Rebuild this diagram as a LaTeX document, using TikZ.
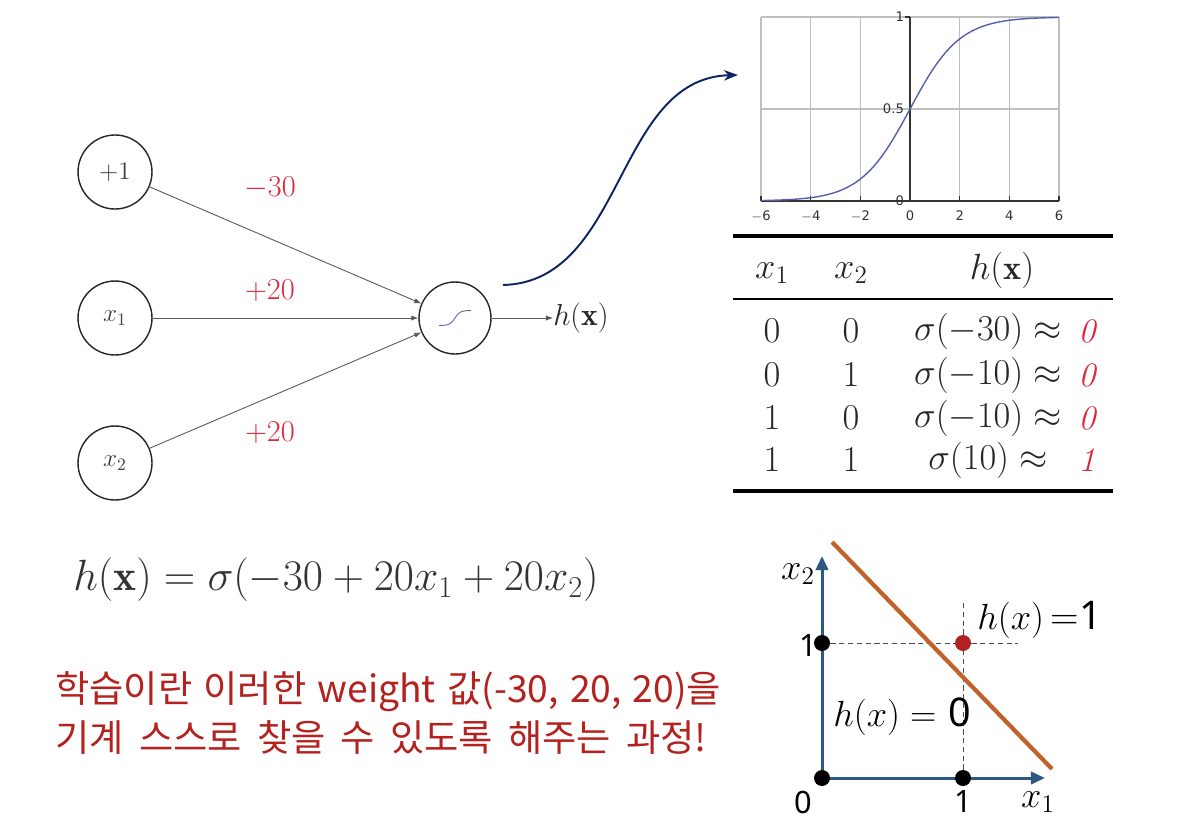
\documentclass[tikz,border=0pt]{standalone}
\usepackage{fontspec}
\newfontfamily\kofont[WordSpace=1.1]{Noto Sans CJK KR}
\newfontfamily\kofontwide[WordSpace=1.35]{Noto Sans CJK KR}
\newfontfamily\tickfont{DejaVu Sans}
\newfontfamily\plotfont{Noto Sans}
\usetikzlibrary{arrows.meta,positioning}
\definecolor{wred}{HTML}{E0283C}
\definecolor{kored}{HTML}{B3221E}
\definecolor{navyline}{HTML}{0D2560}
\definecolor{axisblue}{HTML}{2E5786}
\definecolor{splitline}{HTML}{C0622A}
\definecolor{sigcurve}{HTML}{5560B0}
\definecolor{dotred}{HTML}{B22222}
\begin{document}
\begin{tikzpicture}[x=0.02cm, y=-0.02cm,
    neuron/.style={circle, draw=black!85, line width=0.8pt, minimum size=1.48cm, inner sep=0, font=\fontsize{14}{16}\selectfont, text=black!75},
    syn/.style={draw=black!65, line width=0.5pt, -{Latex[length=4pt,width=3pt]}},
    wlabel/.style={text=wred, font=\fontsize{19}{22}\selectfont},
    cell/.style={inner sep=0, font=\fontsize{19.5}{23}\selectfont, text=black!85},
    gridline/.style={draw=black!25, line width=0.6pt},
    tick/.style={inner sep=1pt, font=\tickfont\fontsize{7.5}{9}\selectfont, text=black!80},
    dot/.style={circle, fill=black, inner sep=0, minimum size=0.32cm},
    axlabel/.style={inner sep=0, font=\plotfont\fontsize{17.5}{20}\selectfont},
    note/.style={anchor=west, inner sep=0, text=kored},
    rule/.style={line width=2pt}]
  \useasboundingbox[fill=white] (0,0) rectangle (1192,838);

  % network
  \node[neuron] (bias) at (115,172) {$+1$};
  \node[neuron] (in1) at (115,318) {$x_1$};
  \node[neuron] (in2) at (115,463) {$x_2$};
  \node[neuron, minimum size=1.44cm] (sig) at (455,318) {};
  \draw[sigcurve, line width=0.5pt] plot[domain=-4:4, samples=30] ({455+4*\x},{325.5-15/(1+exp(-1.5*\x))});
  \node[anchor=west, inner sep=0, font=\fontsize{18}{21}\selectfont, text=black!85] (out) at (553,318) {$h(\mathbf{x})$};

  \draw[syn] (bias) -- (sig);
  \draw[syn] (in1) -- (sig);
  \draw[syn] (in2) -- (sig);
  \draw[syn] (sig) -- (out);

  \node[wlabel] (w0) at (270,188) {$-30$};
  \node[wlabel] (w1) at (270,291) {$+20$};
  \node[wlabel] (w2) at (270,433) {$+20$};

  % link to the sigmoid plot
  \coordinate (linkstart) at (503,285);
  \coordinate (linkend) at (738,75);
  \draw[navyline, line width=1.1pt, -{Stealth[length=8pt,width=6pt]}] (linkstart) .. controls (625,282) and (615,78) .. (linkend);

  % sigmoid plot
  \foreach \gx in {761,810.7,860.3,959.7,1009.3,1059}
    \draw[gridline] (\gx,17) -- (\gx,201);
  \draw[gridline] (761,17) -- (1059,17);
  \draw[gridline] (761,109) -- (1059,109);
  \draw[black!80, line width=0.7pt] (761,201) -- (1059,201);
  \draw[black!80, line width=0.7pt] (910,17) -- (910,201);
  \foreach \gx in {761,810.7,860.3,910,959.7,1009.3,1059}
    \draw[black!80, line width=0.6pt] (\gx,201) -- (\gx,196);
  \draw[black!80, line width=0.6pt] (905,17) -- (910,17);
  \draw[sigcurve, line width=0.8pt] plot[domain=-6:6, samples=80] ({910+24.83*\x},{201-184/(1+exp(-\x))});
  \node[tick, anchor=east] (ty1) at (906,17) {1};
  \node[tick, anchor=east] (ty5) at (906,109) {0.5};
  \node[tick, anchor=east] (ty0) at (906,201) {0};
  \foreach \gx/\lab in {761/$-$6,810.7/$-$4,860.3/$-$2,910/0,959.7/2,1009.3/4,1059/6}
    \node[tick] at (\gx,216) {\lab};

  % truth table
  \draw[rule] (733,236) -- (1113,236);
  \draw[line width=1.5pt] (733,299) -- (1113,299);
  \draw[rule] (733,491) -- (1113,491);
  \node[cell] (hx1) at (772,273) {$x_1$};
  \node[cell] (hx2) at (851,273) {$x_2$};
  \node[cell] (hh) at (1002,270) {$h(\mathbf{x})$};
  \foreach \ry/\a/\b/\s/\r in {331/0/0/-30/0, 375/0/1/-10/0, 418/1/0/-10/0, 460/1/1/10/1} {
    \node[cell] (ra\ry) at (772,\ry) {$\a$};
    \node[cell] (rb\ry) at (851,\ry) {$\b$};
    \node[cell] (rs\ry) at (988,\ry) {$\sigma(\s)\approx$};
    \node[cell, text=wred] (rr\ry) at (1087,\ry) {$\mathit{\r}$};
  }

  % formula
  \node[inner sep=0, font=\fontsize{24.7}{29}\selectfont, text=black!80] (formula) at (336,580) {$h(\mathbf{x})=\sigma(-30+20x_1+20x_2)$};

  % korean note
  \node[note, font=\kofont\fontsize{21.2}{25}\selectfont] (note1) at (55,692) {학습이란 이러한 weight 값(-30, 20, 20)을};
  \node[note, font=\kofontwide\fontsize{21.2}{25}\selectfont] (note2) at (55,737) {기계 스스로 찾을 수 있도록 해주는 과정!};

  % decision plane
  \coordinate (orig) at (822,778);
  \coordinate (xtip) at (1045,778);
  \coordinate (ytip) at (822,556);
  \draw[axisblue, line width=1.7pt, -{Triangle[length=8pt,width=7pt]}] (orig) -- (xtip);
  \draw[axisblue, line width=1.7pt, -{Triangle[length=8pt,width=7pt]}] (orig) -- (ytip);
  \node[dot] (p00) at (822,778) {};
  \node[dot] (p10) at (963,778) {};
  \node[dot] (p01) at (822,643) {};
  \node[dot, fill=dotred] (p11) at (963,643) {};
  \coordinate (hend) at (1018,643);
  \coordinate (vend) at (963,602);
  \draw[black!70, dashed, line width=0.5pt, dash pattern=on 3pt off 2pt] (p01) -- (p11) -- (hend);
  \draw[black!70, dashed, line width=0.5pt, dash pattern=on 3pt off 2pt] (p10) -- (p11) -- (vend);
  \coordinate (cutstart) at (832,542);
  \coordinate (cutend) at (1052,769);
  \draw[splitline, line width=2.4pt] (cutstart) -- (cutend);
  \node[inner sep=0, font=\fontsize{21}{24}\selectfont] (lx2) at (798,574) {$x_2$};
  \node[inner sep=0, font=\fontsize{21}{24}\selectfont] (lx1) at (1038,802) {$x_1$};
  \node[axlabel] (l1y) at (808,646) {1};
  \node[axlabel] (l0) at (803,802) {0};
  \node[axlabel] (l1x) at (963,802) {1};
  \node[anchor=west, inner sep=0, font=\fontsize{22.5}{26}\selectfont] (hone) at (977,620) {$h(x)$\,=\plotfont 1};
  \node[anchor=west, inner sep=0, font=\fontsize{22.5}{26}\selectfont] (hzero) at (833,717) {$h(x)=$ \plotfont 0};
\end{tikzpicture}
\end{document}
